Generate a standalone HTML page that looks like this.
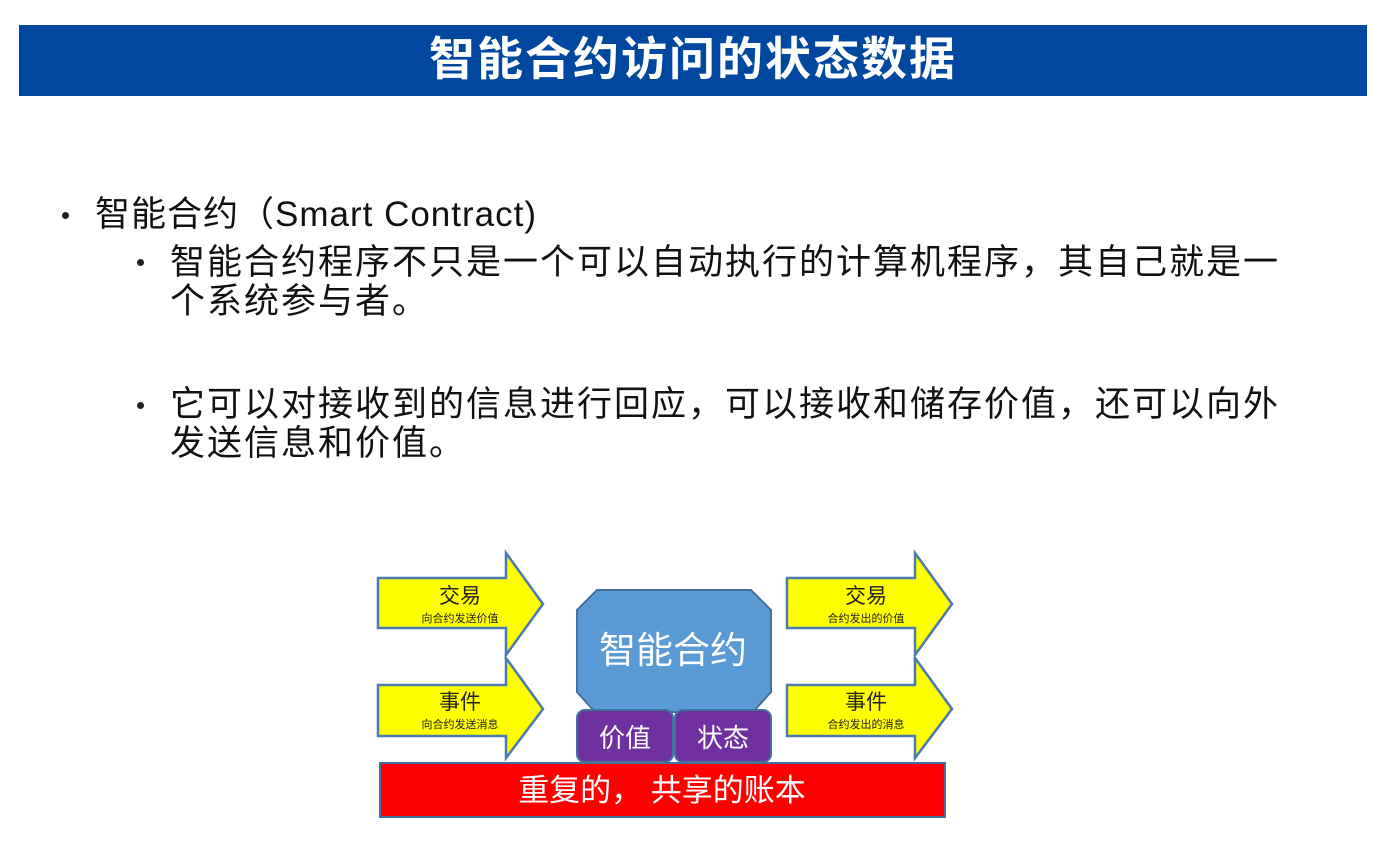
<!DOCTYPE html>
<html><head><meta charset="utf-8"><style>
body{margin:0;width:1377px;height:855px;background:#fff;position:relative;overflow:hidden;font-family:"Liberation Sans","Noto Sans CJK SC",sans-serif;}
.title{position:absolute;left:19px;top:25px;width:1348px;height:71px;background:#0047a0;color:#fff;font-weight:bold;font-size:46px;text-align:center;line-height:69px;letter-spacing:2px;}
.t{position:absolute;color:#111;font-size:35px;line-height:38px;white-space:nowrap;}
.dot{position:absolute;width:7px;height:7px;border-radius:50%;background:#222;}
</style></head><body>
<div class="title">智能合约访问的状态数据</div>
<div class="dot" style="left:62px;top:212px"></div>
<div class="t" style="left:95px;top:196px;letter-spacing:1px">智能合约（Smart Contract)</div>
<div class="dot" style="left:137px;top:259px"></div>
<div class="t" style="left:170px;top:244px;letter-spacing:2px">智能合约程序不只是一个可以自动执行的计算机程序，其自己就是一</div>
<div class="t" style="left:170px;top:283px;letter-spacing:2px">个系统参与者。</div>
<div class="dot" style="left:137px;top:402px"></div>
<div class="t" style="left:170px;top:386px;letter-spacing:2px">它可以对接收到的信息进行回应，可以接收和储存价值，还可以向外</div>
<div class="t" style="left:170px;top:425px;letter-spacing:2px">发送信息和价值。</div>
<svg width="1377" height="855" style="position:absolute;left:0;top:0">
<g fill="#ffff00" stroke="#4a7ab0" stroke-width="2.5">
<polygon points="378,578 506,578 506,553 543,604 506,655 506,628 378,628"/>
<polygon points="378,685 506,685 506,658 543,709 506,758 506,736 378,736"/>
<polygon points="787,578 915,578 915,553 952,604 915,655 915,628 787,628"/>
<polygon points="787,685 915,685 915,658 952,709 915,758 915,736 787,736"/>
</g>
<polygon points="597,590 751,590 771,610 771,692 753,712 595,712 577,692 577,610" fill="#5b9bd5" stroke="#41719c" stroke-width="2"/>
<rect x="577" y="710" width="96" height="52" rx="8" fill="#7030a0" stroke="#41719c" stroke-width="2"/>
<rect x="675" y="710" width="96" height="52" rx="8" fill="#7030a0" stroke="#41719c" stroke-width="2"/>
<rect x="380" y="763" width="565" height="54" fill="#ff0000" stroke="#41719c" stroke-width="2"/>
<g font-family="Liberation Sans,Noto Sans CJK SC,sans-serif" text-anchor="middle">
<text x="460" y="603" font-size="21" fill="#222">交易</text>
<text x="460" y="622" font-size="11" fill="#222">向合约发送价值</text>
<text x="460" y="709" font-size="21" fill="#222">事件</text>
<text x="460" y="728" font-size="11" fill="#222">向合约发送消息</text>
<text x="866" y="603" font-size="21" fill="#222">交易</text>
<text x="866" y="622" font-size="11" fill="#222">合约发出的价值</text>
<text x="866" y="709" font-size="21" fill="#222">事件</text>
<text x="866" y="728" font-size="11" fill="#222">合约发出的消息</text>
<text x="673" y="663" font-size="37" fill="#fff">智能合约</text>
<text x="625" y="747" font-size="26" fill="#fff">价值</text>
<text x="723" y="747" font-size="26" fill="#fff">状态</text>
<text x="662" y="801" font-size="31" fill="#fff">重复的， 共享的账本</text>
</g>
</svg>
</body></html>
